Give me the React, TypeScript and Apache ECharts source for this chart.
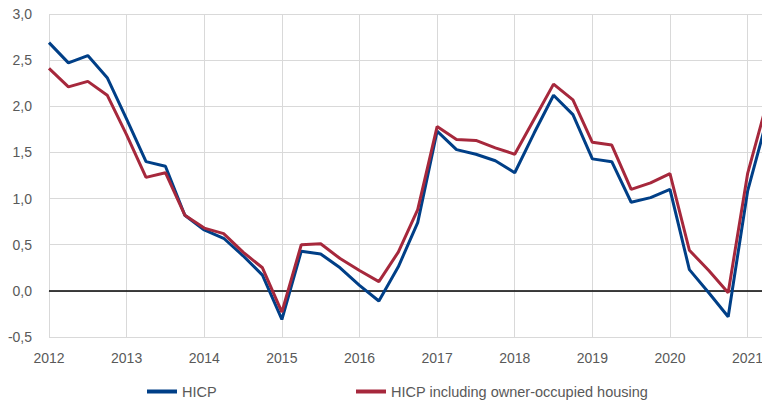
import React, { useEffect, useRef } from "react";
import * as echarts from "echarts";

const quarters = [
  "2012Q1", "2012Q2", "2012Q3", "2012Q4",
  "2013Q1", "2013Q2", "2013Q3", "2013Q4",
  "2014Q1", "2014Q2", "2014Q3", "2014Q4",
  "2015Q1", "2015Q2", "2015Q3", "2015Q4",
  "2016Q1", "2016Q2", "2016Q3", "2016Q4",
  "2017Q1", "2017Q2", "2017Q3", "2017Q4",
  "2018Q1", "2018Q2", "2018Q3", "2018Q4",
  "2019Q1", "2019Q2", "2019Q3", "2019Q4",
  "2020Q1", "2020Q2", "2020Q3", "2020Q4",
  "2021Q1", "2021Q2",
];

const hicp = [
  2.69, 2.47, 2.55, 2.31,
  1.86, 1.40, 1.35, 0.82,
  0.66, 0.57, 0.38, 0.17,
  -0.31, 0.43, 0.40, 0.25,
  0.06, -0.11, 0.26, 0.74,
  1.73, 1.53, 1.48, 1.41,
  1.28, 1.71, 2.12, 1.91,
  1.43, 1.40, 0.96, 1.01,
  1.10, 0.23, -0.02, -0.28,
  1.08, 1.86,
];

const hicpOoh = [
  2.41, 2.21, 2.27, 2.12,
  1.69, 1.23, 1.28, 0.82,
  0.68, 0.62, 0.42, 0.25,
  -0.23, 0.50, 0.51, 0.35,
  0.22, 0.10, 0.42, 0.88,
  1.78, 1.64, 1.63, 1.55,
  1.48, 1.86, 2.24, 2.07,
  1.61, 1.58, 1.10, 1.17,
  1.27, 0.44, 0.22, -0.02,
  1.27, 2.04,
];

const yTicks = [-0.5, 0, 0.5, 1, 1.5, 2, 2.5, 3];

const BLUE = "#003f87";
const RED = "#a6283c";
const TEXT = "#595959";
const GRID = "#d9d9d9";
const FONT = "Liberation Sans";

export default function App() {
  const ref = useRef<HTMLDivElement>(null);

  useEffect(() => {
    document.body.style.margin = "0";
    if (!ref.current) return;
    const chart = echarts.init(ref.current, undefined, { renderer: "svg" });
    chart.setOption({
      animation: false,
      backgroundColor: "#ffffff",
      textStyle: { fontFamily: FONT },
      grid: { left: 49, right: 0, top: 14, bottom: 65, containLabel: false },
      legend: [
        {
          data: ["HICP"],
          left: 147,
          top: 384,
          padding: 0,
          icon: "rect",
          itemWidth: 30,
          itemHeight: 4,
          textStyle: { color: TEXT, fontSize: 14.5, fontFamily: FONT },
        },
        {
          data: ["HICP including owner-occupied housing"],
          left: 356,
          top: 384,
          padding: 0,
          icon: "rect",
          itemWidth: 30,
          itemHeight: 4,
          textStyle: { color: TEXT, fontSize: 14.5, fontFamily: FONT },
        },
      ],
      xAxis: {
        type: "category",
        data: quarters,
        boundaryGap: false,
        axisLine: { show: true, lineStyle: { color: GRID, width: 1 } },
        axisTick: { show: false },
        axisLabel: {
          interval: (idx: number) => idx % 4 === 0,
          formatter: (v: string) => v.slice(0, 4),
          color: TEXT,
          fontSize: 14,
          fontFamily: FONT,
          margin: 14,
        },
        splitLine: {
          show: true,
          interval: (idx: number) => idx % 4 === 0,
          lineStyle: { color: GRID, width: 1 },
        },
      },
      yAxis: {
        type: "value",
        min: yTicks[0],
        max: yTicks[yTicks.length - 1],
        interval: 0.5,
        axisLine: { show: false },
        axisTick: { show: false },
        axisLabel: {
          formatter: (v: number) => v.toFixed(1).replace(".", ","),
          color: TEXT,
          fontSize: 14,
          fontFamily: FONT,
          margin: 17,
        },
        splitLine: { show: true, lineStyle: { color: GRID, width: 1 } },
      },
      series: [
        {
          name: "HICP",
          type: "line",
          data: hicp,
          symbol: "none",
          lineStyle: { color: BLUE, width: 3 },
          itemStyle: { color: BLUE },
          z: 3,
          markLine: {
            silent: true,
            symbol: "none",
            label: { show: false },
            lineStyle: { color: "#000000", width: 1.5, type: "solid" },
            data: [{ yAxis: 0 }],
            z: 1,
          },
        },
        {
          name: "HICP including owner-occupied housing",
          type: "line",
          data: hicpOoh,
          symbol: "none",
          lineStyle: { color: RED, width: 3 },
          itemStyle: { color: RED },
          z: 4,
        },
      ],
    });
    return () => chart.dispose();
  }, []);

  return (
    <div style={{ width: 762, height: 402, overflow: "hidden", position: "relative" }}>
      <div ref={ref} style={{ width: 767, height: 402 }} />
    </div>
  );
}
